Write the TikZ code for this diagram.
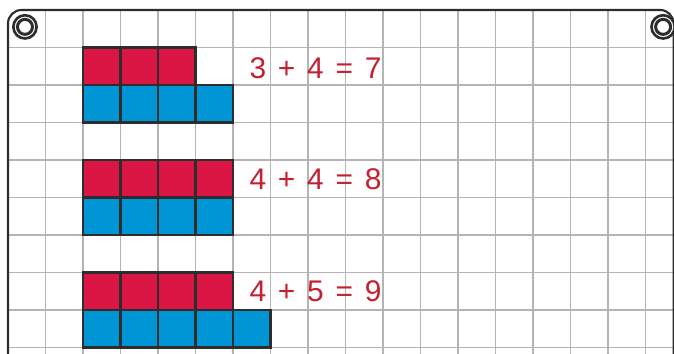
\documentclass[tikz,border=0pt]{standalone}
\usepackage{fontspec}
\newfontfamily\sumfont{Liberation Sans}
\definecolor{cbred}{RGB}{220,22,68}
\definecolor{cbblue}{RGB}{0,150,214}
\definecolor{cbink}{RGB}{196,32,48}
\definecolor{cbgrid}{RGB}{180,180,180}
\definecolor{cbedge}{RGB}{45,45,45}
\newlength{\glyphw}
\setlength{\glyphw}{16.4pt}
\newcommand{\sumline}[3]{\makebox[\glyphw]{#1}\makebox[\glyphw]{+}\makebox[\glyphw]{#2}\makebox[\glyphw]{=}\makebox[\glyphw]{#3}}
\tikzset{
  cube/.style={draw=cbedge, line width=1.6pt, minimum size=0.75cm, inner sep=0pt, outer sep=0pt},
  redcube/.style={cube, fill=cbred},
  bluecube/.style={cube, fill=cbblue},
  gridline/.style={draw=cbgrid, line width=0.85pt},
  board/.style={draw=cbedge, line width=1.2pt},
  sumtext/.style={font=\sumfont\fontsize{17}{17}\selectfont, text=cbink, inner sep=0pt}
}
\begin{document}
\begin{tikzpicture}[x=0.75cm, y=0.75cm]
  \clip (-0.2133,0.2667) rectangle (17.76,-9.1733);
  \fill[white] (-0.2133,0.2667) rectangle (17.76,-9.1733);
  % grid
  \foreach \x in {1,...,17} \draw[gridline] (\x,0) -- (\x,-9.4);
  \foreach \y in {1,...,9} \draw[gridline] (0,-\y) -- (17.8,-\y);
  % board edge and rings
  \draw[board, rounded corners=0.27cm] (0,-9.6) |- (17.75,0) -- (17.75,-9.6);
  \foreach \cx in {0.453,17.47} {
    \fill[white] (\cx,-0.45) circle (0.34);
    \draw[cbedge, line width=1.5pt] (\cx,-0.45) circle (0.31);
    \draw[cbedge, line width=1.7pt] (\cx,-0.45) circle (0.2);
  }
  % 3 + 4
  \foreach \i in {2,3,4} \node[redcube] (ra\i) at (\i+0.5,-1.5) {};
  \foreach \i in {2,...,5} \node[bluecube] (ba\i) at (\i+0.5,-2.5) {};
  \node[sumtext] (suma) at (8.2,-1.55) {\sumline{3}{4}{7}};
  % 4 + 4
  \foreach \i in {2,...,5} \node[redcube] (rb\i) at (\i+0.5,-4.5) {};
  \foreach \i in {2,...,5} \node[bluecube] (bb\i) at (\i+0.5,-5.5) {};
  \node[sumtext] (sumb) at (8.2,-4.5) {\sumline{4}{4}{8}};
  % 4 + 5
  \foreach \i in {2,...,5} \node[redcube] (rc\i) at (\i+0.5,-7.5) {};
  \foreach \i in {2,...,6} \node[bluecube] (bc\i) at (\i+0.5,-8.5) {};
  \node[sumtext] (sumc) at (8.2,-7.5) {\sumline{4}{5}{9}};
\end{tikzpicture}
\end{document}
